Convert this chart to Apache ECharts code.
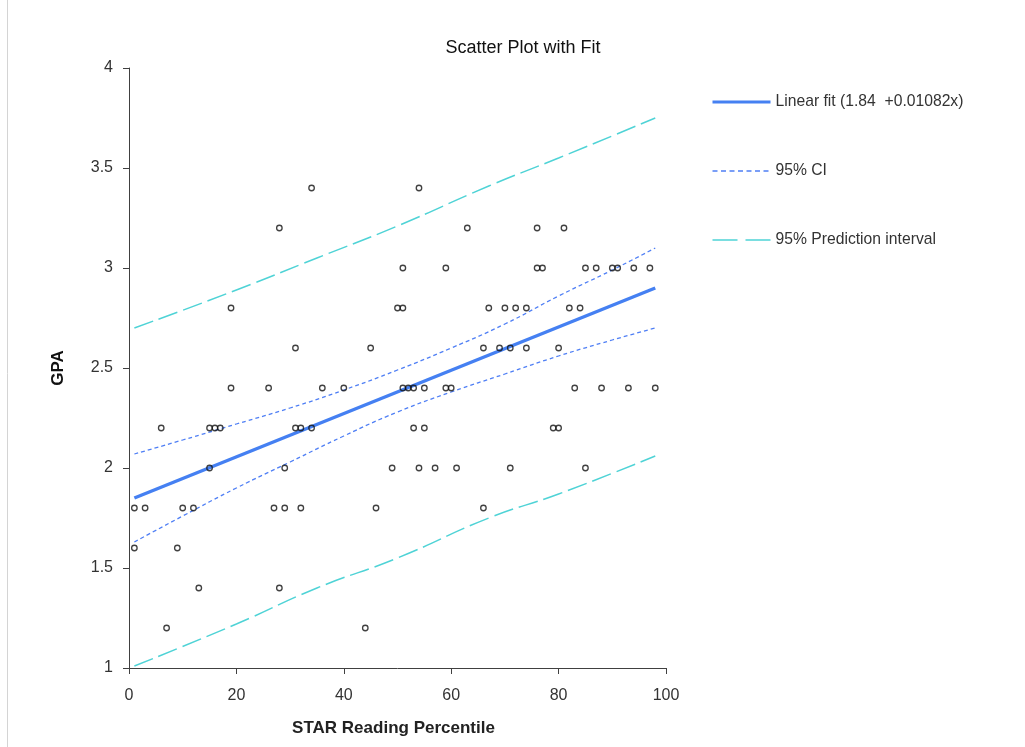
<!DOCTYPE html>
<html>
<head>
<meta charset="utf-8">
<script src="https://cdn.jsdelivr.net/npm/echarts@6/dist/echarts.min.js"></script>
<style>html,body{margin:0;padding:0;background:#fff;}#chart{width:1025px;height:747px;}</style>
</head>
<body>
<div id="chart"></div>
<script>
// Scatter points: STAR Reading Percentile (x) and GPA (y)
var pointsX = [34, 54,
  28, 63, 76, 81,
  51, 59, 76, 77, 85, 87, 90, 91, 94, 97,
  19, 50, 51, 67, 70, 72, 74, 82, 84,
  31, 45, 66, 69, 71, 74, 80,
  19, 26, 36, 40, 51, 52, 53, 55, 59, 60, 83, 88, 93, 98,
  6, 15, 16, 17, 31, 32, 34, 53, 55, 79, 80,
  15, 29, 49, 54, 57, 61, 71, 85,
  1, 3, 10, 12, 27, 29, 32, 46, 66,
  1, 9,
  13, 28,
  7, 44];
var pointsY = [3.4, 3.4,
  3.2, 3.2, 3.2, 3.2,
  3.0, 3.0, 3.0, 3.0, 3.0, 3.0, 3.0, 3.0, 3.0, 3.0,
  2.8, 2.8, 2.8, 2.8, 2.8, 2.8, 2.8, 2.8, 2.8,
  2.6, 2.6, 2.6, 2.6, 2.6, 2.6, 2.6,
  2.4, 2.4, 2.4, 2.4, 2.4, 2.4, 2.4, 2.4, 2.4, 2.4, 2.4, 2.4, 2.4, 2.4,
  2.2, 2.2, 2.2, 2.2, 2.2, 2.2, 2.2, 2.2, 2.2, 2.2, 2.2,
  2.0, 2.0, 2.0, 2.0, 2.0, 2.0, 2.0, 2.0,
  1.8, 1.8, 1.8, 1.8, 1.8, 1.8, 1.8, 1.8, 1.8,
  1.6, 1.6,
  1.4, 1.4,
  1.2, 1.2];

// Linear fit endpoints
var fitX = [1, 98];
var fitY = [1.85, 2.90];

// 95% confidence band
var ciX     = [1,    10,   20,   30,   40,   50,   60,   70,   80,   90,   98];
var ciUpper = [2.07, 2.14, 2.22, 2.30, 2.39, 2.49, 2.60, 2.72, 2.86, 2.99, 3.10];
var ciLower = [1.63, 1.76, 1.90, 2.03, 2.16, 2.28, 2.38, 2.47, 2.56, 2.64, 2.70];

// 95% prediction interval
var piX     = [1,    20,   35,   50,   67,   80,   98];
var piUpper = [2.70, 2.89, 3.05, 3.21, 3.41, 3.55, 3.75];
var piLower = [1.01, 1.22, 1.40, 1.55, 1.75, 1.87, 2.06];

var xTicks = {min: 0, max: 100, interval: 20};
var yTicks = {min: 1, max: 4, interval: 0.5};

var legendNames = ['Linear fit (1.84  +0.01082x)', '95% CI', '95% Prediction interval'];

function zip(xs, ys) { return xs.map(function (x, i) { return [x, ys[i]]; }); }

var FONT = '"Liberation Sans", Arial, sans-serif';
var fitColor = '#4580f2';
var ciColor = '#4f7ff5';
var piColor = '#4fd3d6';

var chart = echarts.init(document.getElementById('chart'), null, {renderer: 'canvas'});
chart.setOption({
  backgroundColor: '#ffffff',
  animation: false,
  title: {
    text: 'Scatter Plot with Fit',
    left: 518, top: 34, textAlign: 'center',
    textStyle: {fontFamily: FONT, fontSize: 18, fontWeight: 'normal', color: '#111'}
  },
  legend: {
    orient: 'vertical',
    left: 706, top: 89,
    itemWidth: 58, itemHeight: 16, itemGap: 53,
    data: [
      {name: legendNames[0], lineStyle: {width: 3, color: fitColor}},
      {name: legendNames[1], lineStyle: {width: 1.5, color: ciColor, type: [5, 3.5]}},
      {name: legendNames[2], lineStyle: {width: 1.5, color: piColor, type: [25, 8]}}
    ],
    itemStyle: {opacity: 0},
    textStyle: {fontFamily: FONT, fontSize: 15.7, color: '#333'},
    selectedMode: false
  },
  grid: {left: 129, right: 359, top: 68, bottom: 79, containLabel: false, outerBoundsMode: 'none'},
  xAxis: {
    type: 'value', min: xTicks.min, max: xTicks.max, interval: xTicks.interval,
    name: 'STAR Reading Percentile', nameLocation: 'middle', nameGap: 52,
    nameTextStyle: {fontFamily: FONT, fontSize: 17, fontWeight: 'bold', color: '#222', padding: [0, 8, 0, 0]},
    axisLine: {show: true, onZero: false, lineStyle: {color: '#404040', width: 1}},
    axisTick: {show: true, length: 6, lineStyle: {color: '#404040'}},
    axisLabel: {margin: 20, fontFamily: FONT, fontSize: 16, color: '#333'},
    splitLine: {show: false}
  },
  yAxis: {
    type: 'value', min: yTicks.min, max: yTicks.max, interval: yTicks.interval,
    name: 'GPA', nameLocation: 'middle', nameGap: 62, nameRotate: 90,
    nameTextStyle: {fontFamily: FONT, fontSize: 17, fontWeight: 'bold', color: '#111'},
    axisLine: {show: true, onZero: false, lineStyle: {color: '#404040', width: 1}},
    axisTick: {show: true, length: 6, lineStyle: {color: '#404040'}},
    axisLabel: {margin: 16, fontFamily: FONT, fontSize: 16, color: '#333'},
    splitLine: {show: false}
  },
  graphic: [{
    type: 'line', silent: true,
    shape: {x1: 7.5, y1: 0, x2: 7.5, y2: 747},
    style: {stroke: '#d4d4d4', lineWidth: 1}
  }],
  series: [
    {
      name: legendNames[2], type: 'line', data: zip(piX, piUpper), smooth: true,
      symbol: 'none', lineStyle: {color: piColor, width: 1.5, type: [20, 6]}, itemStyle: {color: piColor}, z: 2
    },
    {
      name: legendNames[2], type: 'line', data: zip(piX, piLower), smooth: true,
      symbol: 'none', lineStyle: {color: piColor, width: 1.5, type: [20, 6]}, itemStyle: {color: piColor}, z: 2
    },
    {
      name: legendNames[1], type: 'line', data: zip(ciX, ciUpper), smooth: true,
      symbol: 'none', lineStyle: {color: ciColor, width: 1.3, type: [4, 3]}, itemStyle: {color: ciColor}, z: 3
    },
    {
      name: legendNames[1], type: 'line', data: zip(ciX, ciLower), smooth: true,
      symbol: 'none', lineStyle: {color: ciColor, width: 1.3, type: [4, 3]}, itemStyle: {color: ciColor}, z: 3
    },
    {
      name: legendNames[0], type: 'line', data: zip(fitX, fitY),
      symbol: 'none', lineStyle: {color: fitColor, width: 3.5, type: 'solid'}, itemStyle: {color: fitColor}, z: 4
    },
    {
      name: 'Data', type: 'scatter', data: zip(pointsX, pointsY),
      symbol: 'circle', symbolSize: 5.5,
      itemStyle: {color: 'rgba(255,255,255,0)', borderColor: '#111', borderWidth: 1.3}, z: 5
    }
  ]
});
</script>
</body>
</html>
